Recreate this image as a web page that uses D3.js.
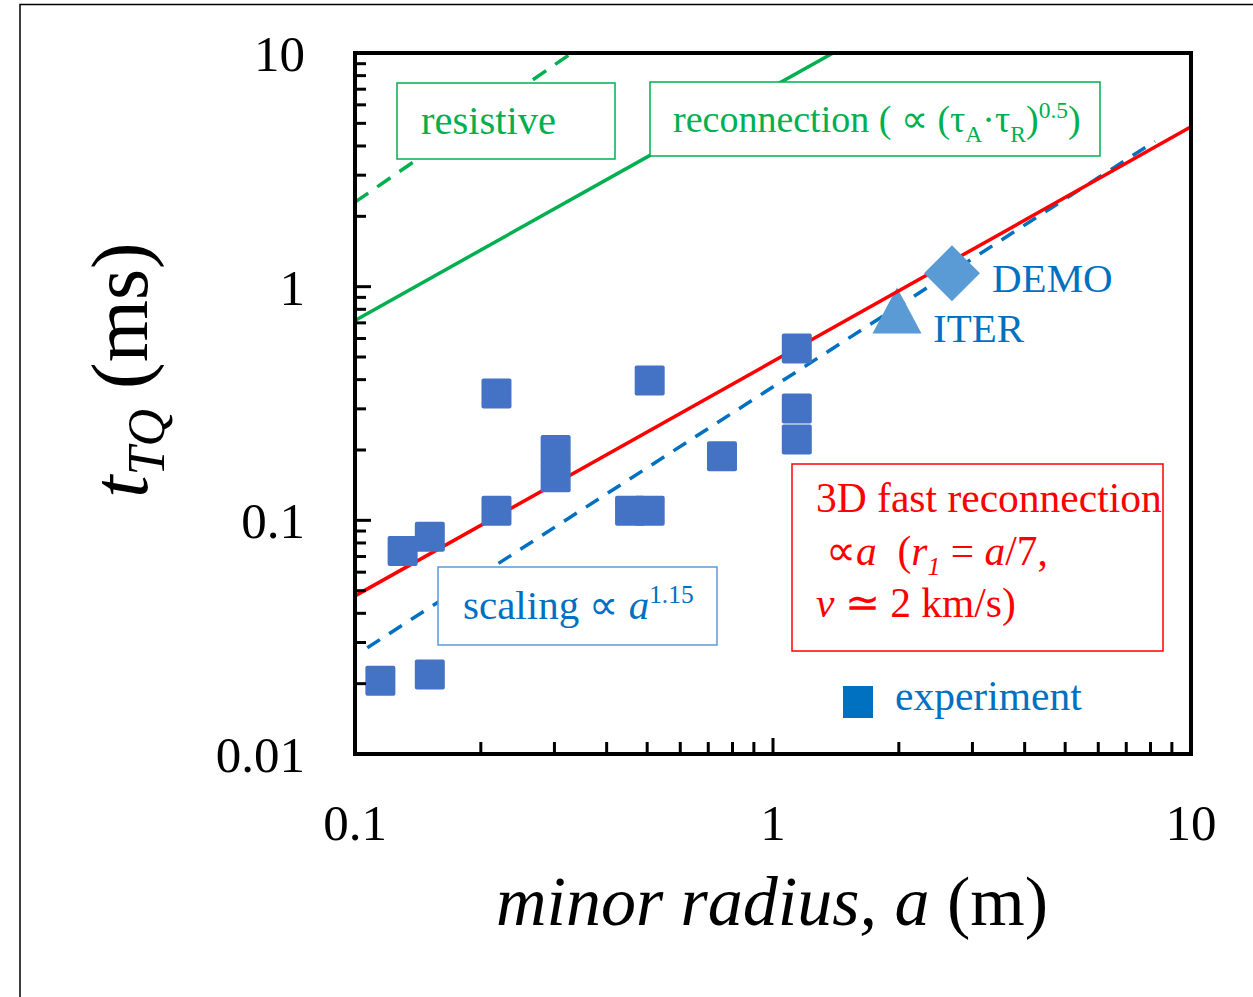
<!DOCTYPE html>
<html><head><meta charset="utf-8">
<script src="https://cdn.jsdelivr.net/npm/d3@7/dist/d3.min.js"></script>
<style>html,body{margin:0;padding:0;background:#fff}svg{display:block}</style>
</head><body>
<script>
// ---- data ----
const xTickValues = [0.1, 1, 10];
const xTickLabels = ["0.1", "1", "10"];
const yTickValues = [0.01, 0.1, 1, 10];
const yTickLabels = ["0.01", "0.1", "1", "10"];

const expA = [0.115, 0.151, 0.130, 0.151, 0.218, 0.218, 0.302, 0.302, 0.507, 0.455, 0.507, 0.755, 1.14, 1.14, 1.14];
const expT = [0.0206, 0.0219, 0.074, 0.085, 0.349, 0.110, 0.200, 0.153, 0.397, 0.110, 0.110, 0.188, 0.544, 0.301, 0.222];

const iterA = 1.98, iterT = 0.79;
const demoA = 2.68, demoT = 1.14;

const fastA = [0.1, 10], fastT = [0.0475, 4.83];          // 3D fast reconnection ∝ a
const scaleA = [0.107, 8.2], scaleT = [0.0285, 4.19];     // scaling ∝ a^1.15
const reconA = [0.1, 1.392], reconT = [0.717, 10];        // reconnection
const resistA = [0.1, 0.33], resistT = [2.3, 10];         // resistive

// ---- layout ----
const W = 1253, H = 997;
const L = 355, R = 1191, T = 53, B = 754;
const serif = "'Liberation Serif','Times New Roman',serif";
const GREEN = "#00B050", BLUE = "#0070C0", LBLUE = "#5B9BD5", RED = "#FF0000", SQ = "#4472C4";

const svg = d3.select("body").append("svg").attr("width", W).attr("height", H);
svg.append("rect").attr("x", 20).attr("y", 4.5).attr("width", W).attr("height", H)
  .attr("fill", "none").attr("stroke", "#000").attr("stroke-width", 1.5);

const x = d3.scaleLog().domain([0.1, 10]).range([L, R]);
const y = d3.scaleLog().domain([0.01, 10]).range([B, T]);

svg.append("clipPath").attr("id", "clip").append("rect")
  .attr("x", L).attr("y", T).attr("width", R - L).attr("height", B - T);
const plot = svg.append("g").attr("clip-path", "url(#clip)");

const line = d3.line().x(d => x(d[0])).y(d => y(d[1]));
function drawLine(A, Tv, color, dash) {
  plot.append("path").datum(A.map((a, i) => [a, Tv[i]]))
    .attr("d", line).attr("fill", "none").attr("stroke", color)
    .attr("stroke-width", 3.5).attr("stroke-dasharray", dash || null);
}
drawLine(resistA, resistT, GREEN, "16,11");
drawLine(reconA, reconT, GREEN);
drawLine(scaleA, scaleT, BLUE, "15,11");

// rich text helper
function rich(g, px, py, parts, color, size) {
  const t = g.append("text").attr("x", px).attr("y", py).attr("fill", color)
    .attr("font-family", serif).attr("font-size", size);
  let shift = 0;
  parts.forEach(p => {
    const s = t.append("tspan").text(p.t);
    if (p.i) s.attr("font-style", "italic");
    let target = 0;
    if (p.sub) { target = size * 0.25; s.attr("font-size", size * 0.62); }
    if (p.sup) { target = -size * 0.38; s.attr("font-size", size * 0.62); }
    if (target !== shift) { s.attr("dy", target - shift); shift = target; }
  });
  return t;
}
function box(g, x0, y0, w, h, color, sw) {
  g.append("rect").attr("x", x0).attr("y", y0).attr("width", w).attr("height", h)
    .attr("fill", "#fff").attr("stroke", color).attr("stroke-width", sw || 1.5);
}

const NB = "\u00a0";
const ann = svg.append("g");
box(ann, 397, 83, 218, 76, GREEN);
rich(ann, 421, 134, [{t: "resistive"}], GREEN, 40.5);
box(ann, 650, 82, 450, 74, GREEN);
rich(ann, 673, 132, [{t: "reconnection (" + NB + "∝" + NB + "(τ"}, {t: "A", sub: 1}, {t: "·τ"}, {t: "R", sub: 1}, {t: ")"}, {t: "0.5", sup: 1}, {t: ")"}], GREEN, 38);
box(ann, 438, 567, 279, 78, LBLUE);
rich(ann, 463, 619, [{t: "scaling ∝ "}, {t: "a", i: 1}, {t: "1.15", sup: 1}], BLUE, 41);
box(ann, 792, 464, 371, 187, RED);
rich(ann, 816, 512, [{t: "3D fast reconnection"}], RED, 41.5);
rich(ann, 826, 565, [{t: "∝"}, {t: "a", i: 1}, {t: NB + NB + "("}, {t: "r", i: 1}, {t: "1", i: 1, sub: 1}, {t: " = "}, {t: "a", i: 1}, {t: "/7,"}], RED, 41.5);
rich(ann, 816, 617, [{t: "v", i: 1}, {t: " ≃ 2 km/s)"}], RED, 41.5);

// ITER triangle
const mk = svg.append("g");
mk.append("path").attr("transform", `translate(${x(iterA)},${y(iterT)})`)
  .attr("d", "M0,-23 L24.5,23 L-24.5,23 Z").attr("fill", LBLUE);

// red fast reconnection line
svg.append("g").attr("clip-path", "url(#clip)").append("path")
  .datum(fastA.map((a, i) => [a, fastT[i]])).attr("d", line)
  .attr("fill", "none").attr("stroke", RED).attr("stroke-width", 3.5);

// DEMO diamond
const mk2 = svg.append("g");
mk2.append("path").attr("transform", `translate(${x(demoA)},${y(demoT)})`)
  .attr("d", "M0,-28 L28,0 L0,28 L-28,0 Z").attr("fill", LBLUE);

// experiment squares
mk2.selectAll("rect.sq").data(expA.map((a, i) => [a, expT[i]])).join("rect")
  .attr("class", "sq").attr("x", d => x(d[0]) - 15).attr("y", d => y(d[1]) - 15)
  .attr("width", 30).attr("height", 30).attr("rx", 2).attr("fill", SQ);

// labels
rich(svg, 992, 292, [{t: "DEMO"}], BLUE, 41);
rich(svg, 933, 342, [{t: "ITER"}], BLUE, 41);
svg.append("rect").attr("x", 843).attr("y", 686).attr("width", 30).attr("height", 32).attr("fill", BLUE);
rich(svg, 895, 710, [{t: "experiment"}], BLUE, 41.5);

// axes
const xMinor = [], yMinor = [];
[0.1, 1].forEach(d => { for (let k = 2; k <= 9; k++) xMinor.push(d * k); });
[0.01, 0.1, 1].forEach(d => { for (let k = 2; k <= 9; k++) yMinor.push(d * k); });
const ax = svg.append("g").attr("stroke", "#000");
ax.selectAll("line.xm").data(xMinor).join("line")
  .attr("x1", d => x(d)).attr("x2", d => x(d)).attr("y1", B).attr("y2", B - 12).attr("stroke-width", 3);
ax.selectAll("line.xM").data(xTickValues).join("line")
  .attr("x1", d => x(d)).attr("x2", d => x(d)).attr("y1", B).attr("y2", B - 16).attr("stroke-width", 3);
ax.selectAll("line.ym").data(yMinor).join("line")
  .attr("y1", d => y(d)).attr("y2", d => y(d)).attr("x1", L).attr("x2", L + 11).attr("stroke-width", 3);
ax.selectAll("line.yM").data(yTickValues).join("line")
  .attr("y1", d => y(d)).attr("y2", d => y(d)).attr("x1", L).attr("x2", L + 16).attr("stroke-width", 3);
svg.append("rect").attr("x", L).attr("y", T).attr("width", R - L).attr("height", B - T)
  .attr("fill", "none").attr("stroke", "#000").attr("stroke-width", 4);

svg.append("g").selectAll("text").data(xTickValues).join("text")
  .attr("x", d => x(d)).attr("y", 840).attr("text-anchor", "middle")
  .attr("font-family", serif).attr("font-size", 51).text((d, i) => xTickLabels[i]);
svg.append("g").selectAll("text").data(yTickValues).join("text")
  .attr("x", 305).attr("y", d => y(d) + 18).attr("text-anchor", "end")
  .attr("font-family", serif).attr("font-size", 51).text((d, i) => yTickLabels[i]);

// axis titles
const xt = svg.append("text").attr("x", 772).attr("y", 925).attr("text-anchor", "middle")
  .attr("font-family", serif).attr("font-size", 70);
xt.append("tspan").attr("font-style", "italic").text("minor radius, a");
xt.append("tspan").text(" (m)");

const yt = svg.append("text").attr("transform", "translate(147,370) rotate(-90)")
  .attr("text-anchor", "middle").attr("font-family", serif).attr("font-size", 80);
yt.append("tspan").attr("font-style", "italic").text("t");
yt.append("tspan").attr("font-style", "italic").attr("font-size", 52).attr("dy", 17).text("TQ");
yt.append("tspan").attr("dy", -17).text(" (ms)");
</script>
</body></html>
